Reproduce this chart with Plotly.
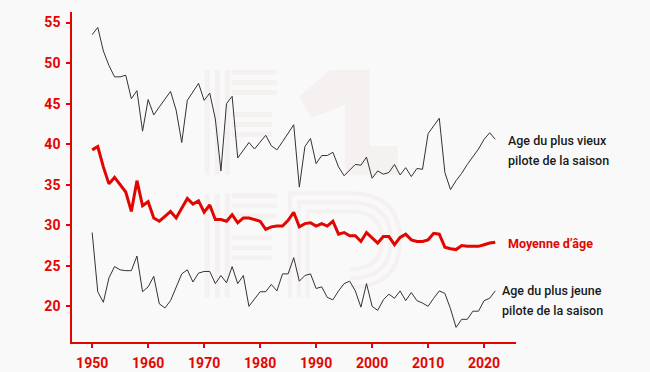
import plotly.graph_objects as go

years = list(range(1950, 2023))

oldest = [53.5, 54.4, 51.5, 49.7, 48.3, 48.3, 48.5, 45.6, 46.6, 41.6,
          45.5, 43.6, 44.6, 45.6, 46.5, 44.2, 40.2, 45.4, 46.4, 47.5,
          45.4, 46.3, 43.1, 36.7, 45.0, 45.9, 38.3, 39.2, 40.2, 39.4,
          40.2, 41.1, 39.8, 39.3, 40.3, 41.3, 42.4, 34.7, 39.7, 40.7,
          37.6, 38.6, 38.6, 39.0, 37.2, 36.1, 36.8, 37.5, 37.4, 38.4,
          35.8, 36.7, 36.3, 36.5, 37.5, 36.2, 37.1, 36.0, 37.0, 36.9,
          41.3, 42.2, 43.2, 36.5, 34.4, 35.5, 36.4, 37.5, 38.5, 39.4,
          40.6, 41.4, 40.6]

average = [39.3, 39.7, 37.2, 35.1, 35.9, 35.0, 34.1, 31.7, 35.5, 32.4,
           32.9, 30.9, 30.5, 31.1, 31.7, 30.9, 32.1, 33.3, 32.6, 33.0,
           31.6, 32.5, 30.7, 30.7, 30.5, 31.3, 30.3, 30.9, 30.9, 30.7,
           30.5, 29.5, 29.8, 29.9, 29.9, 30.6, 31.6, 29.8, 30.2, 30.3,
           29.9, 30.2, 29.9, 30.5, 28.9, 29.1, 28.7, 28.7, 28.0, 29.1,
           28.5, 27.8, 28.6, 28.6, 27.6, 28.5, 28.9, 28.2, 28.0, 28.0,
           28.2, 29.0, 28.9, 27.3, 27.1, 27.0, 27.5, 27.4, 27.4, 27.4,
           27.6, 27.8, 27.9]

youngest = [29.1, 21.8, 20.5, 23.5, 24.9, 24.5, 24.4, 24.4, 26.2, 21.8,
            22.4, 23.7, 20.3, 19.8, 20.7, 22.4, 24.0, 24.5, 23.0, 24.1,
            24.3, 24.3, 22.8, 23.8, 22.9, 24.9, 22.8, 23.8, 20.0, 20.9,
            21.8, 21.8, 22.7, 21.9, 24.0, 24.0, 26.0, 23.1, 23.8, 24.0,
            22.2, 22.4, 21.1, 20.8, 21.9, 22.8, 23.1, 21.9, 19.9, 22.8,
            20.0, 19.5, 20.8, 21.5, 21.0, 21.9, 20.7, 21.7, 20.7, 20.4,
            20.0, 21.0, 21.9, 21.6, 19.7, 17.4, 18.4, 18.4, 19.4, 19.4,
            20.7, 21.0, 21.9]

x_ticks = [1950, 1960, 1970, 1980, 1990, 2000, 2010, 2020]
y_ticks = [20, 25, 30, 35, 40, 45, 50, 55]

RED = "#e10600"
DARK = "#333333"
BG = "#f9f9f9"
WM = "#f5f1f1"

fig = go.Figure()
fig.add_trace(go.Scatter(x=years, y=oldest, mode="lines",
                         line=dict(color=DARK, width=1), hoverinfo="skip"))
fig.add_trace(go.Scatter(x=years, y=youngest, mode="lines",
                         line=dict(color=DARK, width=1), hoverinfo="skip"))
fig.add_trace(go.Scatter(x=years, y=average, mode="lines",
                         line=dict(color=RED, width=3), hoverinfo="skip"))

# faint watermark (decoration) in paper coordinates derived from pixels
PL, PR, PT, PB = 72.3, 516.0, 12.0, 341.7


def px(x):
    return (x - PL) / (PR - PL)


def py(y):
    return (PB - y) / (PB - PT)


def wm_rect(x0, y0, x1, y1):
    fig.add_shape(type="rect", xref="paper", yref="paper",
                  x0=px(x0), x1=px(x1), y0=py(y1), y1=py(y0),
                  fillcolor=WM, line_width=0, layer="below")


for top, bot in [(70, 175), (193, 297)]:
    for sx in (205, 215, 225):
        wm_rect(sx, top, sx + 5, bot)
    for by, bx1 in [(0, 277), (10, 277), (20, 277), (42, 272), (52, 272), (62, 272)]:
        wm_rect(232, top + by, bx1, top + by + 5)

# "1" shape
one = [(330, 70), (370, 70), (370, 146), (398, 146), (398, 175), (345, 175),
       (345, 105), (312, 118), (299, 97)]
path = "M " + " L ".join(f"{px(a)},{py(b)}" for a, b in one) + " Z"
fig.add_shape(type="path", xref="paper", yref="paper", path=path,
              fillcolor=WM, line_width=0, layer="below")

# "R" outlines
for k in range(3):
    o = k * 9
    r_pts = [(290 + o, 297), (290 + o, 193 + o), (350, 193 + o)]
    path = "M " + " L ".join(f"{px(a)},{py(b)}" for a, b in r_pts)
    path += f" Q {px(400 - o)},{py(193 + o)} {px(400 - o)},{py(240)}"
    path += f" Q {px(400 - o)},{py(287 - o)} {px(350)},{py(287 - o)}"
    fig.add_shape(type="path", xref="paper", yref="paper", path=path,
                  line=dict(color=WM, width=4), layer="below")

ann_font = dict(family="Roboto", size=12.5, color="#1a1a1a", weight=500)
labels = [
    (2023.9, 40.5, "Age du plus vieux", ann_font),
    (2023.9, 38.0, "pilote de la saison", ann_font),
    (2024.0, 27.7, "Moyenne d’âge",
     dict(family="Roboto", size=12.5, color=RED, weight="bold")),
    (2022.8, 21.9, "Age du plus jeune", ann_font),
    (2022.8, 19.5, "pilote de la saison", ann_font),
]
for lx, ly, txt, f in labels:
    fig.add_annotation(x=lx, y=ly, xref="x", yref="y", text=txt,
                       showarrow=False, xanchor="left", yanchor="middle",
                       align="left", font=f)

fig.update_layout(
    width=650, height=372,
    margin=dict(l=72, r=134, t=12, b=30),
    paper_bgcolor=BG, plot_bgcolor=BG,
    showlegend=False,
    xaxis=dict(range=[1946.4, 2025.7], tickvals=x_ticks,
               showgrid=False, zeroline=False, automargin=False,
               showline=True, linecolor=RED, linewidth=1.5,
               ticks="outside", ticklen=4, tickcolor=RED, tickwidth=1.5,
               ticklabelstandoff=3,
               tickfont=dict(family="Roboto", size=14, color=RED, weight="bold")),
    yaxis=dict(range=[15.6, 56.3], tickvals=y_ticks,
               showgrid=False, zeroline=False, automargin=False,
               showline=True, linecolor=RED, linewidth=1.5,
               ticks="outside", ticklen=4, tickcolor=RED, tickwidth=1.5,
               ticklabelstandoff=3,
               tickfont=dict(family="Roboto", size=14, color=RED, weight="bold")),
)

fig.write_html("out.html", config={"displayModeBar": False},
               post_script="document.body.style.margin='0';"
                           "document.body.style.background='#f9f9f9';")
